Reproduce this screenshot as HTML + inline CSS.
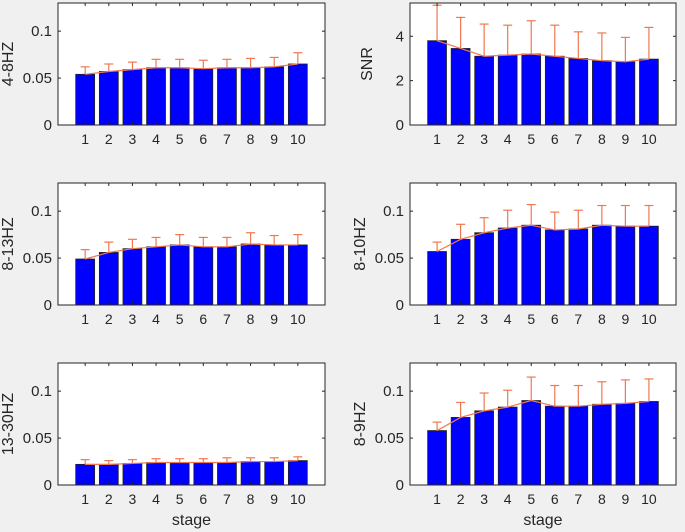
<!DOCTYPE html>
<html><head><meta charset="utf-8"><style>
html,body{margin:0;padding:0;background:#f0f0f0;}
svg{display:block;font-family:"Liberation Sans",Arial,sans-serif;}
</style></head><body>
<svg id="fig" width="685" height="532" viewBox="0 0 685 532"></svg>
<script>
const stages=[1,2,3,4,5,6,7,8,9,10];
const means48=[0.054,0.057,0.059,0.061,0.061,0.060,0.061,0.061,0.062,0.065];
const upper48=[0.062,0.065,0.067,0.070,0.070,0.069,0.070,0.071,0.072,0.077];
const meansSNR=[3.8,3.45,3.1,3.15,3.2,3.1,3.0,2.9,2.85,2.97];
const upperSNR=[5.4,4.85,4.55,4.5,4.7,4.5,4.2,4.15,3.95,4.4];
const means813=[0.049,0.056,0.060,0.062,0.064,0.062,0.062,0.065,0.064,0.064];
const upper813=[0.059,0.067,0.070,0.072,0.075,0.072,0.072,0.077,0.074,0.075];
const means810=[0.057,0.070,0.077,0.082,0.085,0.080,0.081,0.085,0.084,0.084];
const upper810=[0.067,0.086,0.093,0.101,0.107,0.099,0.101,0.106,0.106,0.106];
const means1330=[0.022,0.022,0.023,0.024,0.024,0.024,0.024,0.025,0.025,0.026];
const upper1330=[0.027,0.026,0.027,0.028,0.028,0.028,0.029,0.029,0.029,0.030];
const means89=[0.058,0.072,0.079,0.083,0.090,0.084,0.084,0.086,0.087,0.089];
const upper89=[0.067,0.088,0.098,0.101,0.115,0.106,0.106,0.110,0.112,0.113];
const ticksHz=[0,0.05,0.1];
const tickLabelsHz=["0","0.05","0.1"];
const ticksSNR=[0,2,4];
const tickLabelsSNR=["0","2","4"];

const NS="http://www.w3.org/2000/svg";
const svg=document.getElementById('fig');
function mk(tag,attrs,parent){const e=document.createElementNS(NS,tag);for(const k in attrs)e.setAttribute(k,attrs[k]);(parent||svg).appendChild(e);return e;}

function panel(id,x0,y0,x1,y1,ymax,means,upper,ticks,tlabels,ylabel,showX){
  const g=mk('g',{});
  
  
  const xmin=-0.15,xmax=11.15;
  const X=v=>x0+(v-xmin)/(xmax-xmin)*(x1-x0);
  const Y=v=>y1-v/ymax*(y1-y0);
  const bg=mk('rect',{x:x0,y:y0,width:x1-x0,height:y1-y0,fill:'#fff'},g);
  
  
  const bw=X(0.8)-X(0);
  stages.forEach((s,i)=>{
    const r=mk('rect',{x:X(s)-bw/2,y:Y(means[i]),width:bw,height:y1-Y(means[i]),fill:'#0000ff',stroke:'#222','stroke-width':0.8},g);
    
    
  });
  const pts=stages.map((s,i)=>X(s)+','+Y(means[i])).join(' ');
  const pl=mk('polyline',{points:pts,fill:'none',stroke:'#f07850','stroke-width':1.2},g);
  
  
  stages.forEach((s,i)=>{
    const eg=mk('g',{stroke:'#f07850','stroke-width':1.2},g);
    
    
    mk('line',{x1:X(s),y1:Y(means[i]),x2:X(s),y2:Y(upper[i])},eg);
    mk('line',{x1:X(s)-4.5,y1:Y(upper[i]),x2:X(s)+4.5,y2:Y(upper[i])},eg);
  });
  const tg=mk('g',{stroke:'#262626','stroke-width':1},g);
  stages.forEach(s=>{
    mk('line',{x1:X(s),y1:y1,x2:X(s),y2:y1-3},tg);
    mk('line',{x1:X(s),y1:y0,x2:X(s),y2:y0+3},tg);
    const t=mk('text',{x:X(s),y:y1+19,'text-anchor':'middle','font-size':14,fill:'#262626'},g);
    t.textContent=s;
    
    
  });
  ticks.forEach((v,i)=>{
    mk('line',{x1:x0,y1:Y(v),x2:x0+3,y2:Y(v)},tg);
    mk('line',{x1:x1,y1:Y(v),x2:x1-3,y2:Y(v)},tg);
    const t=mk('text',{x:x0-6,y:Y(v)+5,'text-anchor':'end','font-size':15,fill:'#262626'},g);
    t.textContent=tlabels[i];
    
    
  });
  const fr=mk('rect',{x:x0,y:y0,width:x1-x0,height:y1-y0,fill:'none',stroke:'#262626','stroke-width':1},g);
  
  
  const ylx=ylabel==='SNR'?x0-38:x0-45;
  const yl=mk('text',{x:ylx,y:(y0+y1)/2,'text-anchor':'middle','font-size':16,fill:'#262626',transform:`rotate(-90 ${ylx} ${(y0+y1)/2})`},g);
  yl.textContent=ylabel;
  
  
  if(showX){
    const xl=mk('text',{x:(X(1)+X(10))/2,y:y1+40,'text-anchor':'middle','font-size':16,fill:'#262626'},g);
    xl.textContent='stage';
    
    
  }
}
panel('4-8hz',58,3,325,125,0.13,means48,upper48,ticksHz,tickLabelsHz,'4-8HZ',false);
panel('snr',410,3,676,125,5.5,meansSNR,upperSNR,ticksSNR,tickLabelsSNR,'SNR',false);
panel('8-13hz',58,183,325,305,0.13,means813,upper813,ticksHz,tickLabelsHz,'8-13HZ',false);
panel('8-10hz',410,183,676,305,0.13,means810,upper810,ticksHz,tickLabelsHz,'8-10HZ',false);
panel('13-30hz',58,363,325,485,0.13,means1330,upper1330,ticksHz,tickLabelsHz,'13-30HZ',true);
panel('8-9hz',410,363,676,485,0.13,means89,upper89,ticksHz,tickLabelsHz,'8-9HZ',true);
</script>
</body></html>
